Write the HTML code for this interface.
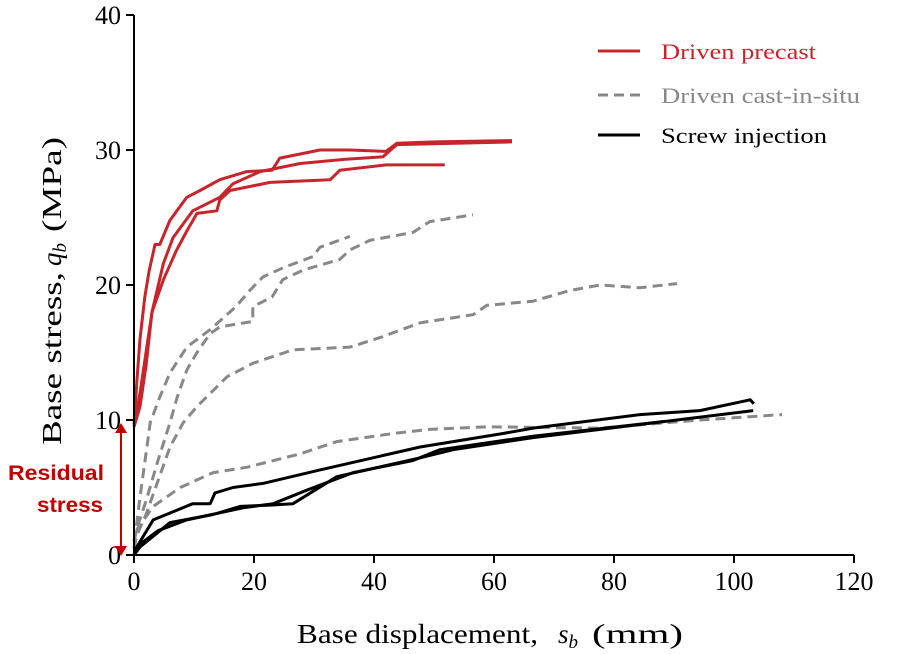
<!DOCTYPE html>
<html><head><meta charset="utf-8"><style>
body{margin:0;background:#fff}
svg{display:block}
</style></head><body>
<svg id="chart" width="902" height="654" xmlns="http://www.w3.org/2000/svg"></svg>
<script>
const xTicks=[0,20,40,60,80,100,120];
const yTicks=[0,10,20,30,40];
const redAx=[0,0.5,1,1.8,2.5,3.5,4.3,6,8.8,11,14.3,18.8,23,24.3,31,36,42,43.8,50,63];
const redAy=[9.7,13,16,19.1,21,23,23,24.8,26.5,27,27.8,28.4,28.5,29.4,30,30,29.9,30.5,30.6,30.7];
const redBx=[0,1,2,3,4.9,6.5,9.8,14.3,16.5,21,27.7,35,41.5,43.8,63];
const redBy=[9.5,11,14,18,21.6,23.5,25.5,26.5,27.5,28.4,29,29.3,29.5,30.4,30.6];
const redCx=[0,1,2,3,5,7,8.8,10.5,13.8,14.3,16,22.7,32.7,34.3,42,51.8];
const redCy=[9.5,12,15,18,20.5,22.5,24,25.3,25.5,26.3,27,27.6,27.8,28.5,28.9,28.9];
const g1x=[0,0.5,1,2,2.7,4.3,6,8.8,12.7,17,19.3,21.5,25,29.8,31,36];
const g1y=[1,2.5,4.3,7.5,9.8,11.7,13.5,15.4,16.7,18.4,19.6,20.6,21.3,22.1,22.8,23.6];
const g2x=[0,0.5,2,4,6,7.2,8.8,10.5,12.7,14.3,19.8,19.8,23,24.8,28.2,34.3,36,39.3,46.5,49.3,56.5];
const g2y=[1,2,4,7,9.8,11.7,13.7,15,16.4,16.9,17.3,18.4,19.1,20.4,21.1,21.9,22.6,23.3,23.9,24.7,25.2];
const g3x=[0,0.5,2,4,6,8.2,10.5,15.5,19.8,26.5,36,41,47.7,56.5,58.8,66.5,72.7,77.7,84.3,90.5];
const g3y=[0.5,1.5,3,5.5,8,9.8,11,13.2,14.2,15.2,15.4,16.1,17.2,17.8,18.5,18.8,19.6,20,19.8,20.1];
const g4x=[0,0.5,3.2,7.7,13.2,18.8,27.7,33.8,43.2,49.3,58.8,77.7,94.3,108];
const g4y=[0.5,1.9,3.6,5,6.1,6.5,7.5,8.4,9,9.3,9.5,9.4,10,10.4];
const k1x=[0,0.2,3.2,9.8,12.7,13.5,16.5,21.5,31,47.7,61.5,66.5,84.3,94.3,102.7,103.3];
const k1y=[0,0.4,2.6,3.8,3.8,4.6,5,5.3,6.3,8,9,9.4,10.4,10.7,11.5,11.2];
const k2x=[0,1,6,13.2,17.7,22.7,26.5,33.8,47.7,53.2,66.5,103.2];
const k2y=[0,0.6,2.4,3,3.6,3.7,3.8,5.8,7.2,7.8,8.7,10.7];
const k3x=[0,1,4,8.8,18.2,23.2,28.8,36.5,46.5,51,66.5,88.5];
const k3y=[0,0.8,1.8,2.6,3.5,3.8,4.8,6.1,7,7.8,8.8,9.9];

const svg=document.getElementById('chart');
const NS='http://www.w3.org/2000/svg';
const X=v=>134+6*v, Y=v=>555-13.5*v;
function mk(tag,attrs,parent){const e=document.createElementNS(NS,tag);for(const k in attrs)e.setAttribute(k,attrs[k]);(parent||svg).appendChild(e);return e;}
const SERIF='"Liberation Serif", serif';

function line(xs,ys,color,dash,name){
  const d=xs.map((v,i)=>(i?'L':'M')+X(v).toFixed(1)+','+Y(ys[i]).toFixed(1)).join('');
  const p=mk('path',{d:d,fill:'none',stroke:color,'stroke-width':3,'stroke-linejoin':'round','stroke-linecap':'butt'});
  if(dash)p.setAttribute('stroke-dasharray','10,6');
  
  
}
const RED='#c8242b',GREY='#888888',BLK='#000';
line(g1x,g1y,GREY,true,'cast-in-situ-curve-1');
line(g2x,g2y,GREY,true,'cast-in-situ-curve-2');
line(g3x,g3y,GREY,true,'cast-in-situ-curve-3');
line(g4x,g4y,GREY,true,'cast-in-situ-curve-4');
line(k1x,k1y,BLK,false,'screw-injection-curve-1');
line(k2x,k2y,BLK,false,'screw-injection-curve-2');
line(k3x,k3y,BLK,false,'screw-injection-curve-3');
line(redAx,redAy,RED,false,'precast-curve-1');
line(redBx,redBy,RED,false,'precast-curve-2');
line(redCx,redCy,RED,false,'precast-curve-3');

const ax=mk('line',{x1:X(0),y1:Y(0),x2:X(120),y2:Y(0),stroke:'#000','stroke-width':2});

const ay=mk('line',{x1:X(0),y1:Y(0),x2:X(0),y2:Y(40),stroke:'#000','stroke-width':2});

xTicks.forEach(v=>{
  mk('line',{x1:X(v),y1:555,x2:X(v),y2:563,stroke:'#000','stroke-width':2});
  const t=mk('text',{x:X(v),y:590,'text-anchor':'middle','font-family':SERIF,'font-size':26});
  t.textContent=v;
  
});
yTicks.forEach(v=>{
  mk('line',{x1:126,y1:Y(v),x2:134,y2:Y(v),stroke:'#000','stroke-width':2});
  const t=mk('text',{x:121,y:Y(v)+9,'text-anchor':'end','font-family':SERIF,'font-size':26});
  t.textContent=v;
  
});
</script>
<svg width="902" height="654" style="position:absolute;left:0;top:0" xmlns="http://www.w3.org/2000/svg">
<g font-family="Liberation Serif, serif" font-size="27">
<text x="297" y="643" textLength="241" lengthAdjust="spacingAndGlyphs">Base displacement,</text>
<text x="558" y="643" font-style="italic">s<tspan font-size="19" dy="5">b</tspan></text>
<text x="592" y="643" textLength="91" lengthAdjust="spacingAndGlyphs">(mm)</text>
</g>
<g font-family="Liberation Serif, serif" font-size="27" transform="translate(61,0) rotate(-90)">
<text x="-445" y="0" textLength="173" lengthAdjust="spacingAndGlyphs">Base stress,</text>
<text x="-266" y="0" font-style="italic">q<tspan font-size="19" dy="5">b</tspan></text>
<text x="-232" y="0" textLength="95" lengthAdjust="spacingAndGlyphs">(MPa)</text>
</g>
<g>
<line x1="598" y1="51" x2="640" y2="51" stroke="#c8242b" stroke-width="3"/>
<text x="661" y="59" font-family="Liberation Serif, serif" font-size="22" fill="#c8242b" textLength="155" lengthAdjust="spacingAndGlyphs">Driven precast</text>
<line x1="598" y1="95" x2="640" y2="95" stroke="#888" stroke-width="3" stroke-dasharray="10,6"/>
<text x="661" y="103" font-family="Liberation Serif, serif" font-size="22" fill="#888" textLength="199" lengthAdjust="spacingAndGlyphs">Driven cast-in-situ</text>
<line x1="598" y1="135" x2="640" y2="135" stroke="#000" stroke-width="3"/>
<text x="661" y="143" font-family="Liberation Serif, serif" font-size="22" fill="#000" textLength="166" lengthAdjust="spacingAndGlyphs">Screw injection</text>
</g>
<g>
<line x1="121" y1="430" x2="121" y2="549" stroke="#c00000" stroke-width="2"/>
<polygon points="115,433 121,423 127,433" fill="#c00000"/>
<polygon points="115,546 121,556 127,546" fill="#c00000"/>
</g>
<text x="8" y="480" font-family="Liberation Sans, sans-serif" font-weight="bold" font-size="21" fill="#c00000" textLength="96" lengthAdjust="spacingAndGlyphs">Residual</text>
<text x="37" y="512" font-family="Liberation Sans, sans-serif" font-weight="bold" font-size="21" fill="#c00000" textLength="66" lengthAdjust="spacingAndGlyphs">stress</text>
</svg>
</body></html>
